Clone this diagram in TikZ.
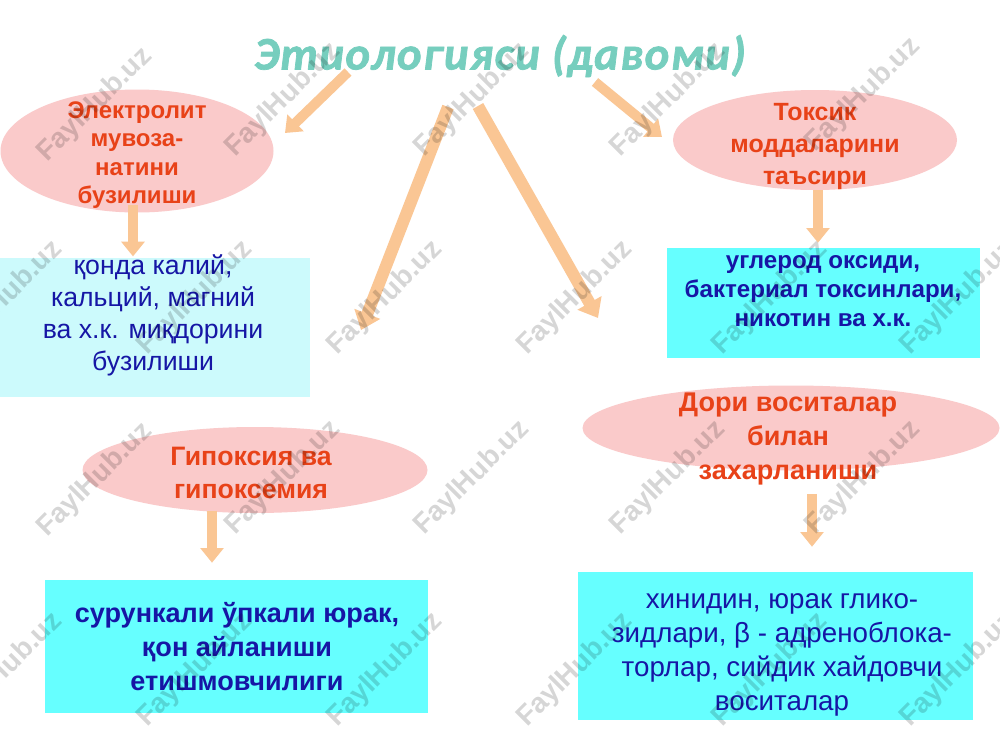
\documentclass[tikz,border=0pt]{standalone}
\usepackage{fontspec}
\setmainfont{Liberation Sans}
\newfontfamily\titlefont[LetterSpace=3,FakeBold=1.5]{Carlito}
\usetikzlibrary{arrows.meta,shapes.geometric}
\definecolor{pinkfill}{RGB}{250,202,202}
\definecolor{redtext}{RGB}{232,66,24}
\definecolor{bluetext}{RGB}{22,22,165}
\definecolor{cyanbox}{RGB}{102,255,255}
\definecolor{lightcyan}{RGB}{204,250,252}
\definecolor{arrowc}{RGB}{250,198,148}
\definecolor{titlec}{RGB}{118,206,190}
\tikzset{
  ell/.style={ellipse, fill=pinkfill, draw=none, inner sep=0pt},
  boxc/.style={rectangle, fill=cyanbox, draw=none, inner sep=0pt},
  boxl/.style={rectangle, fill=lightcyan, draw=none, inner sep=0pt},
  redlbl/.style={text=redtext, align=center, inner sep=0pt},
  bluelbl/.style={text=bluetext, align=center, inner sep=0pt},
  barrow/.style={draw=arrowc, line width=7.5pt, -{Triangle[width=17pt,length=11pt]}},
  bigarrow/.style={draw=arrowc, line width=9pt, -{Triangle[width=20pt,length=13pt]}},
  wm/.style={text=black, text opacity=0.16, rotate=45, inner sep=0pt,
    font=\bfseries\fontsize{21}{21}\selectfont}
}
\begin{document}
\begin{tikzpicture}[x=0.75pt,y=-0.75pt]
\useasboundingbox (0,0) rectangle (1000,750);
\fill[white] (0,0) rectangle (1000,750);

% title
\node[text=titlec, inner sep=0pt, font=\titlefont\bfseries\itshape\fontsize{35}{40}\selectfont] (title) at (500,56) {Этиологияси (давоми)};

% shapes
\node[ell, minimum width=204.75pt, minimum height=92.25pt] (e1) at (137,151) {};
\node[ell, minimum width=213pt, minimum height=75pt] (e2) at (815,140) {};
\node[ell, minimum width=258.75pt, minimum height=64.5pt] (e3) at (255,470) {};
\node[ell, minimum width=312.75pt, minimum height=63.75pt] (e4) at (791,428) {};
\node[boxl, minimum width=232.5pt, minimum height=104.25pt] (b1) at (155,327.5) {};
\node[boxc, minimum width=234.75pt, minimum height=82.5pt] (b2) at (823.5,303) {};
\node[boxc, minimum width=287.25pt, minimum height=99.75pt] (b3) at (236.5,646.5) {};
\node[boxc, minimum width=296.25pt, minimum height=111pt] (b4) at (775.5,646) {};

% texts
\node[redlbl, font=\bfseries\fontsize{18}{21.4}\selectfont] (t1) at (137,155) {Электролит\\мувоза-\\натини\\бузилиши};
\node[redlbl, font=\bfseries\fontsize{18.7}{24}\selectfont] (t2) at (815,147) {Токсик\\моддаларини\\таъсири};
\node[redlbl, font=\bfseries\fontsize{20}{25}\selectfont] (t3) at (251,473) {Гипоксия ва\\гипоксемия};
\node[redlbl, font=\bfseries\fontsize{20.3}{25.5}\selectfont] (t4) at (788,439) {Дори воситалар\\билан\\захарланиши};
\node[bluelbl, font=\fontsize{20}{24}\selectfont] (t5) at (153,315) {қонда калий,\\кальций, магний\\ва х.к. миқдорини\\бузилиши};
\node[bluelbl, font=\bfseries\fontsize{18.1}{22}\selectfont] (t6) at (823,291) {углерод оксиди,\\бактериал токсинлари,\\никотин ва х.к.};
\node[bluelbl, font=\bfseries\fontsize{20.3}{25.5}\selectfont] (t7) at (237,647) {сурункали ўпкали юрак,\\қон айланиши\\етишмовчилиги};
\node[bluelbl, font=\fontsize{20.8}{25.3}\selectfont] (t8) at (782,655) {хинидин, юрак глико-\\зидлари, β - адреноблока-\\торлар, сийдик хайдовчи\\воситалар};

% arrow end points
\coordinate (aA) at (348,72);  \coordinate (bA) at (285,133);
\coordinate (aB) at (595,82);  \coordinate (bB) at (662,137);
\coordinate (aC) at (448,107); \coordinate (bC) at (361,330);
\coordinate (aD) at (478,106); \coordinate (bD) at (598,318);

\draw[barrow] (aA) -- (bA);
\draw[barrow] (aB) -- (bB);
\draw[bigarrow] (aC) -- (bC);
\draw[bigarrow] (aD) -- (bD);

\draw[barrow] ([xshift=-3pt,yshift=6pt]e1.south) -- ([xshift=-3pt,yshift=1pt]e1.south |- b1.north);
\draw[barrow] ([xshift=2.25pt,yshift=0pt]e2.south) -- ([xshift=2.25pt,yshift=3.75pt]e2.south |- b2.north);
\draw[barrow] ([xshift=-32.25pt,yshift=2pt]e3.south) -- ([xshift=-32.25pt,yshift=12.75pt]e3.south |- b3.north);
\draw[barrow] ([xshift=15.75pt,yshift=-17.25pt]e4.south) -- ([xshift=15.75pt,yshift=18.75pt]e4.south |- b4.north);

% watermarks
\foreach \x/\y in {95/105,283/100,472/100,668/100,863/95,
                   5/298,195/298,385/298,575/298,770/298,958/298,
                   95/480,283/478,472/478,668/478,863/478,
                   5/670,195/670,385/670,575/670,770/670,958/670}
  \node[wm] (wm-\x-\y) at (\x,\y) {FaylHub.uz};
\end{tikzpicture}
\end{document}
